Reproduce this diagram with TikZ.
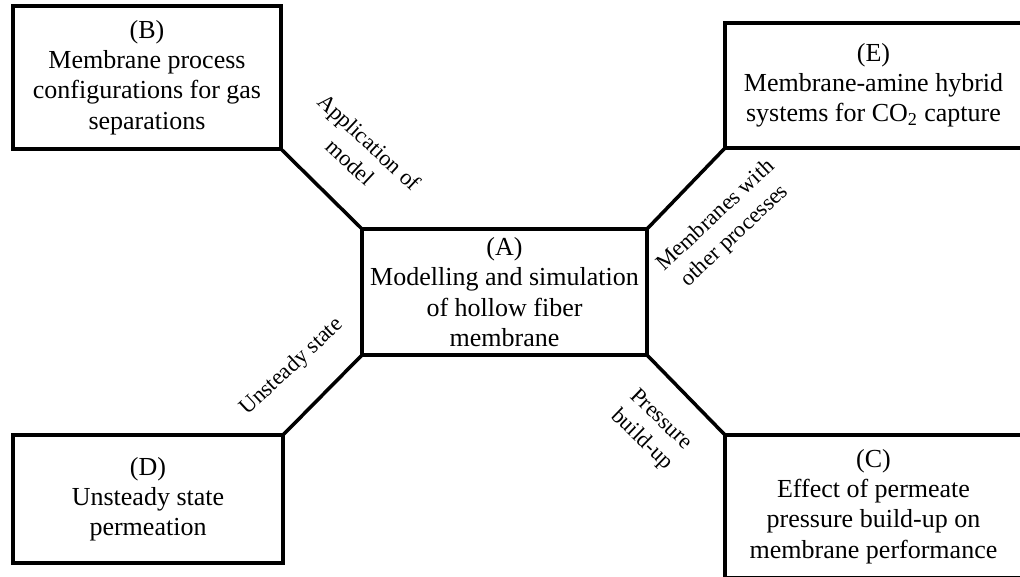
\documentclass[tikz,border=0pt]{standalone}
\usepackage{fontspec}
\setmainfont{Liberation Serif}
\begin{document}
\begin{tikzpicture}[x=0.02cm,y=-0.02cm]
\tikzset{box/.style={draw,line width=2pt,outer sep=0pt,align=center,font=\fontsize{14.8}{17.2}\selectfont},
conn/.style={line width=2pt},
lbl/.style={align=center,inner sep=0pt,font=\fontsize{12.8}{15.8}\selectfont}}
\path[use as bounding box,clip] (0,0) rectangle (1020,577);

\node[box,minimum width=5.7cm,minimum height=2.52cm] (A) at (504.5,292) {(A)\\ Modelling and simulation\\ of hollow fiber\\ membrane};
\node[box,minimum width=5.36cm,minimum height=2.86cm] (B) at (147,77.5) {(B)\\ Membrane process\\ configurations for gas\\ separations};
\node[box,minimum width=5.94cm,minimum height=2.86cm] (C) at (873.5,506.5) {(C)\\ Effect of permeate\\ pressure build-up on\\ membrane performance};
\node[box,minimum width=5.4cm,minimum height=2.56cm] (D) at (148,499) {(D)\\ Unsteady state\\ permeation};
\node[box,minimum width=5.94cm,minimum height=2.5cm] (E) at (873.5,85.5) {(E)\\ Membrane-amine hybrid\\ systems for CO\textsubscript{2} capture};

\draw[conn] (B.south east) -- (A.north west);
\draw[conn] (A.north east) -- (E.south west);
\draw[conn] (D.north east) -- (A.south west);
\draw[conn] (A.south east) -- (C.north west);

\node[lbl,rotate=-43] (appl) at (360,152) {Application of\\ model};
\node[lbl,rotate=43] (withproc) at (725.5,226) {Membranes with\\ other processes};
\node[lbl,rotate=43] (unsteady) at (292,367) {Unsteady state};
\node[lbl,rotate=-44] (buildup) at (651,430) {Pressure\\ build-up};
\end{tikzpicture}
\end{document}
